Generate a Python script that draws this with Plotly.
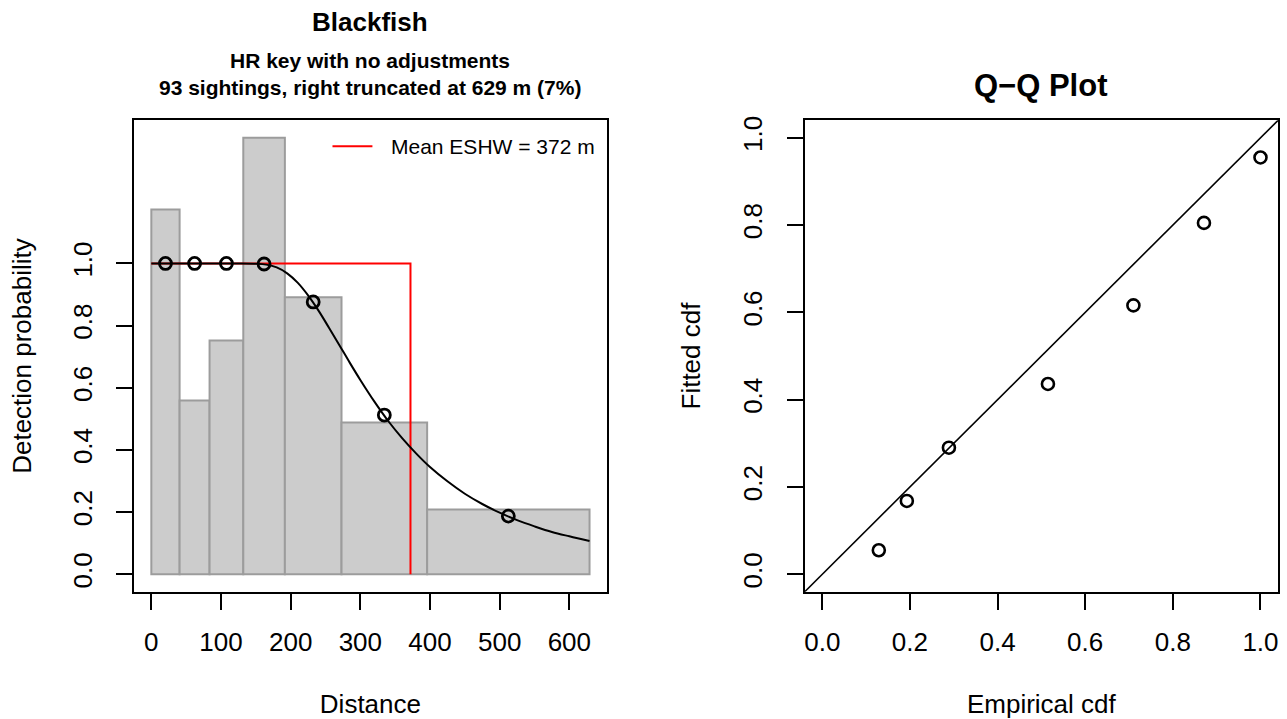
import plotly.graph_objects as go

# ---------------- data ----------------
# Left panel: histogram of scaled detection frequencies
bin_edges = [0, 40.6, 83.6, 132, 191.7, 273, 395.9, 629]
bar_heights = [1.173, 0.559, 0.752, 1.404, 0.891, 0.488, 0.208]
# fitted detection probability at bin midpoints
point_probs = [1.0, 1.0, 1.0, 0.998, 0.876, 0.512, 0.187]
# fitted detection curve
curve_dist = [0, 50, 100, 125, 150, 165, 180, 195, 210, 225, 240, 255, 270, 285,
              300, 320, 340, 360, 380, 400, 425, 450, 475, 500, 525, 550, 575, 600, 629]
curve_prob = [1.0, 1.0, 1.0, 1.0, 0.999, 0.996, 0.987, 0.968, 0.938, 0.897, 0.848, 0.793,
              0.737, 0.680, 0.625, 0.556, 0.493, 0.438, 0.389, 0.345, 0.299, 0.259, 0.226,
              0.198, 0.174, 0.154, 0.136, 0.122, 0.107]
eshw = 372
truncation = 629
eshw_label = "Mean ESHW = 372 m"

# Right panel: Q-Q plot
emp_cdf = [0.129, 0.193, 0.289, 0.515, 0.710, 0.871, 1.0]
fit_cdf = [0.055, 0.168, 0.290, 0.436, 0.616, 0.805, 0.955]

x_ticks_left = [0, 100, 200, 300, 400, 500, 600]
y_ticks_left = [0.0, 0.2, 0.4, 0.6, 0.8, 1.0]
qq_ticks = [0.0, 0.2, 0.4, 0.6, 0.8, 1.0]

title_main = "Blackfish"
subtitle_1 = "HR key with no adjustments"
subtitle_2 = "93 sightings, right truncated at 629 m (7%)"
qq_title = "Q\u2212Q Plot"

# ---------------- layout helpers ----------------
W, H = 1287, 719
FONT = "Liberation Sans, Arial, Helvetica, sans-serif"
BASE = 26

def px_x(p):
    return p / W

def px_y(p):
    return 1 - p / H

left_dom = [px_x(133), px_x(607)]
right_dom = [px_x(805), px_x(1279)]
y_dom = [px_y(591), px_y(117)]

mids = [(a + b) / 2 for a, b in zip(bin_edges[:-1], bin_edges[1:])]
widths = [b - a for a, b in zip(bin_edges[:-1], bin_edges[1:])]

xr = [0 - 0.04 * truncation, truncation + 0.04 * truncation]
ymax = max(bar_heights)
yr = [-0.04 * ymax, ymax * 1.04]
qr = [-0.04, 1.04]

fig = go.Figure()

fig.add_trace(go.Bar(
    x=mids, y=bar_heights, width=widths,
    marker=dict(color="#cccccc", line=dict(color="#9c9c9c", width=2)),
    xaxis="x", yaxis="y", showlegend=False, hoverinfo="skip"))

fig.add_trace(go.Scatter(
    x=[0, eshw, eshw], y=[1, 1, 0], mode="lines",
    line=dict(color="red", width=2), xaxis="x", yaxis="y", showlegend=False))

fig.add_trace(go.Scatter(
    x=curve_dist, y=curve_prob, mode="lines", line=dict(color="black", width=2, shape="spline"),
    xaxis="x", yaxis="y", showlegend=False))

fig.add_trace(go.Scatter(
    x=mids, y=point_probs, mode="markers",
    marker=dict(symbol="circle-open", size=12, color="black", line=dict(width=2.8)),
    xaxis="x", yaxis="y", showlegend=False))

# Q-Q
fig.add_trace(go.Scatter(
    x=qr, y=qr, mode="lines", line=dict(color="black", width=1.6),
    xaxis="x2", yaxis="y2", showlegend=False))
fig.add_trace(go.Scatter(
    x=emp_cdf, y=fit_cdf, mode="markers",
    marker=dict(symbol="circle-open", size=12, color="black", line=dict(width=2.6)),
    xaxis="x2", yaxis="y2", showlegend=False))

axis_common = dict(
    showgrid=False, zeroline=False, showline=True, mirror=True,
    linecolor="black", linewidth=1.8, ticks="outside", ticklen=16, tickwidth=1.8,
    tickcolor="black", tickfont=dict(family=FONT, size=BASE, color="black"),
)

fig.update_layout(
    width=W, height=H,
    margin=dict(l=0, r=0, t=0, b=0),
    paper_bgcolor="white", plot_bgcolor="white",
    showlegend=False,
    font=dict(family=FONT, color="black"),
    xaxis=dict(domain=left_dom, range=xr, anchor="y", tickvals=x_ticks_left,
               ticklabelstandoff=10,
               title=dict(text="Distance", font=dict(size=BASE), standoff=43),
               **axis_common),
    yaxis=dict(domain=y_dom, range=yr, anchor="x", tickvals=y_ticks_left, tickformat=".1f",
               tickangle=-90, ticklabelstandoff=14,
               title=dict(text="Detection probability", font=dict(size=BASE), standoff=28),
               **axis_common),
    xaxis2=dict(domain=right_dom, range=qr, anchor="y2", tickvals=qq_ticks, tickformat=".1f",
                ticklabelstandoff=10,
                title=dict(text="Empirical cdf", font=dict(size=BASE), standoff=43),
                **axis_common),
    yaxis2=dict(domain=y_dom, range=qr, anchor="x2", tickvals=qq_ticks, tickformat=".1f",
                tickangle=-90, ticklabelstandoff=14,
                title=dict(text="Fitted cdf", font=dict(size=BASE), standoff=30),
                **axis_common),
)

# legend (drawn manually, R-style)
fig.add_shape(type="line", xref="paper", yref="paper",
              x0=px_x(332), x1=px_x(372), y0=px_y(143), y1=px_y(143),
              line=dict(color="red", width=2))
fig.add_annotation(text=eshw_label, xref="paper", yref="paper", x=px_x(389), y=px_y(143),
                   xanchor="left", yanchor="middle", showarrow=False,
                   font=dict(family=FONT, size=21, color="black"))

# titles
fig.add_annotation(text="<b>%s</b>" % title_main, xref="paper", yref="paper",
                   x=px_x(370), y=px_y(18), xanchor="center", yanchor="middle",
                   showarrow=False, font=dict(family=FONT, size=26, color="black"))
fig.add_annotation(text="<b>%s</b>" % subtitle_1, xref="paper", yref="paper",
                   x=px_x(370), y=px_y(57), xanchor="center", yanchor="middle",
                   showarrow=False, font=dict(family=FONT, size=21, color="black"))
fig.add_annotation(text="<b>%s</b>" % subtitle_2, xref="paper", yref="paper",
                   x=px_x(370), y=px_y(84), xanchor="center", yanchor="middle",
                   showarrow=False, font=dict(family=FONT, size=21, color="black"))
fig.add_annotation(text="<b>%s</b>" % qq_title, xref="paper", yref="paper",
                   x=px_x(1042), y=px_y(82), xanchor="center", yanchor="middle",
                   showarrow=False, font=dict(family=FONT, size=31, color="black"))

fig.write_html("out.html", config={"displayModeBar": False},
               post_script="document.body.style.margin='0px';")
